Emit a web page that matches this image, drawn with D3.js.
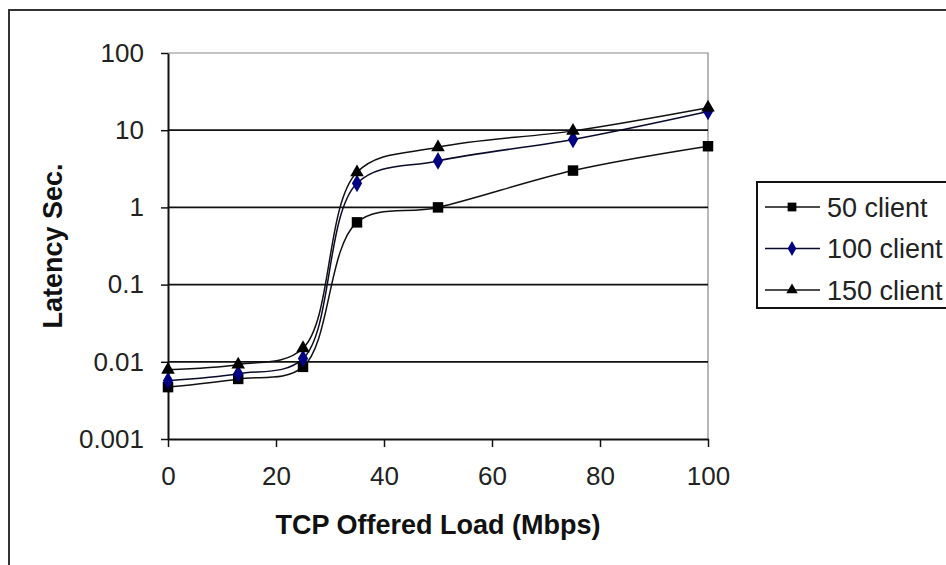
<!DOCTYPE html>
<html>
<head>
<meta charset="utf-8">
<script src="https://cdn.jsdelivr.net/npm/d3@7"></script>
<style>
  body { margin: 0; background: #fff; }
  text { font-family: Arial, "Liberation Sans", sans-serif; }
</style>
</head>
<body>
<div id="chart"></div>
<script>
// offered load on the x axis (Mbps)
const loads = [0, 13, 25, 35, 50, 75, 100];
// latency in seconds per series
const client50  = [0.0047, 0.006, 0.0086, 0.64, 1.0, 3.0, 6.2];
const client100 = [0.0057, 0.007, 0.011, 2.05, 4.0, 7.6, 17.5];
const client150 = [0.0079, 0.0092, 0.015, 2.85, 6.0, 9.8, 19.6];
const seriesNames = ["50 client", "100 client", "150 client"];
const xTicks = [0, 20, 40, 60, 80, 100];
const yTicks = [0.001, 0.01, 0.1, 1, 10, 100];
const yTickLabels = ["0.001", "0.01", "0.1", "1", "10", "100"];

const width = 946, height = 565;
const plot = { left: 168, right: 708, top: 53, bottom: 439 };

const svg = d3.select("#chart").append("svg")
    .attr("width", width)
    .attr("height", height);

// chart area border (runs off the right/bottom edge like the original)
svg.append("rect")
    .attr("x", 9).attr("y", 10)
    .attr("width", 960).attr("height", 580)
    .attr("fill", "#fff")
    .attr("stroke", "#333")
    .attr("stroke-width", 2);

const x = d3.scaleLinear().domain([0, 100]).range([plot.left, plot.right]);
const y = d3.scaleLog().domain([0.001, 100]).range([plot.bottom, plot.top]);

// plot area border top / right (grey)
svg.append("path")
    .attr("d", `M${plot.left},${y(100)}H${plot.right}V${plot.bottom}`)
    .attr("fill", "none")
    .attr("stroke", "#888")
    .attr("stroke-width", 1.2);

// horizontal gridlines
svg.append("g")
    .selectAll("line")
    .data(yTicks.filter(d => d > 0.001 && d < 100))
    .enter().append("line")
    .attr("x1", plot.left).attr("x2", plot.right)
    .attr("y1", d => y(d)).attr("y2", d => y(d))
    .attr("stroke", "#111")
    .attr("stroke-width", 1.8);

const xAxis = svg.append("g")
    .attr("transform", `translate(0,${plot.bottom})`)
    .call(d3.axisBottom(x).tickValues(xTicks).tickSize(8).tickPadding(20).tickSizeOuter(0));
xAxis.select(".domain").attr("stroke", "#111").attr("stroke-width", 2);
xAxis.selectAll(".tick line").attr("stroke", "#111").attr("stroke-width", 1.5);
xAxis.selectAll("text")
    .attr("fill", "#222")
    .style("font-size", "26px")
    .style("font-family", "Arial, 'Liberation Sans', sans-serif");

const yAxis = svg.append("g")
    .attr("transform", `translate(${plot.left},0)`)
    .call(d3.axisLeft(y).tickValues(yTicks)
        .tickFormat((d, i) => yTickLabels[i])
        .tickSize(7).tickPadding(17).tickSizeOuter(0));
yAxis.select(".domain").attr("stroke", "#111").attr("stroke-width", 2);
yAxis.selectAll(".tick line").attr("stroke", "#111").attr("stroke-width", 1.5);
yAxis.selectAll("text")
    .attr("fill", "#222")
    .style("font-size", "26px")
    .style("font-family", "Arial, 'Liberation Sans', sans-serif");

// axis titles
svg.append("text")
    .attr("x", (plot.left + plot.right) / 2)
    .attr("y", 534)
    .attr("text-anchor", "middle")
    .style("font-size", "27px")
    .style("font-weight", "bold")
    .attr("fill", "#111")
    .text("TCP Offered Load (Mbps)");

svg.append("text")
    .attr("transform", `translate(62,${(plot.top + plot.bottom) / 2}) rotate(-90)`)
    .attr("text-anchor", "middle")
    .style("font-size", "27px")
    .style("font-weight", "bold")
    .attr("fill", "#111")
    .text("Latency Sec.");

const series = [
    { name: seriesNames[0], values: client50, line: "#111", marker: "#000", shape: d3.symbolSquare, size: 110 },
    { name: seriesNames[1], values: client100, line: "#0a0a2a", marker: "#000080", shape: d3.symbolDiamond, size: 90 },
    { name: seriesNames[2], values: client150, line: "#111", marker: "#000", shape: d3.symbolTriangle, size: 80 }
];

const line = d3.line()
    .x(d => x(d[0]))
    .y(d => y(d[1]))
    .curve(d3.curveCatmullRom.alpha(0.5));

series.forEach(s => {
    const pts = loads.map((l, i) => [l, s.values[i]]);
    svg.append("path")
        .datum(pts)
        .attr("d", line)
        .attr("fill", "none")
        .attr("stroke", s.line)
        .attr("stroke-width", 1.5);
});

series.forEach(s => {
    const pts = loads.map((l, i) => [l, s.values[i]]);
    svg.append("g")
        .selectAll("path")
        .data(pts)
        .enter().append("path")
        .attr("transform", d => `translate(${x(d[0])},${y(d[1])})`)
        .attr("d", d3.symbol().type(s.shape).size(s.size))
        .attr("fill", s.marker);
});

// legend
const legend = svg.append("g");
legend.append("rect")
    .attr("x", 757).attr("y", 182)
    .attr("width", 220).attr("height", 126)
    .attr("fill", "#fff")
    .attr("stroke", "#111")
    .attr("stroke-width", 2);

series.forEach((s, i) => {
    const ly = 207 + i * 41.5;
    legend.append("line")
        .attr("x1", 765).attr("x2", 820)
        .attr("y1", ly).attr("y2", ly)
        .attr("stroke", s.line)
        .attr("stroke-width", 1.5);
    legend.append("path")
        .attr("transform", `translate(792,${ly})`)
        .attr("d", d3.symbol().type(s.shape).size(s.size * 0.7))
        .attr("fill", s.marker);
    legend.append("text")
        .attr("x", 827).attr("y", ly)
        .attr("dy", "0.36em")
        .style("font-size", "27px")
        .attr("fill", "#222")
        .text(s.name);
});
</script>
</body>
</html>
